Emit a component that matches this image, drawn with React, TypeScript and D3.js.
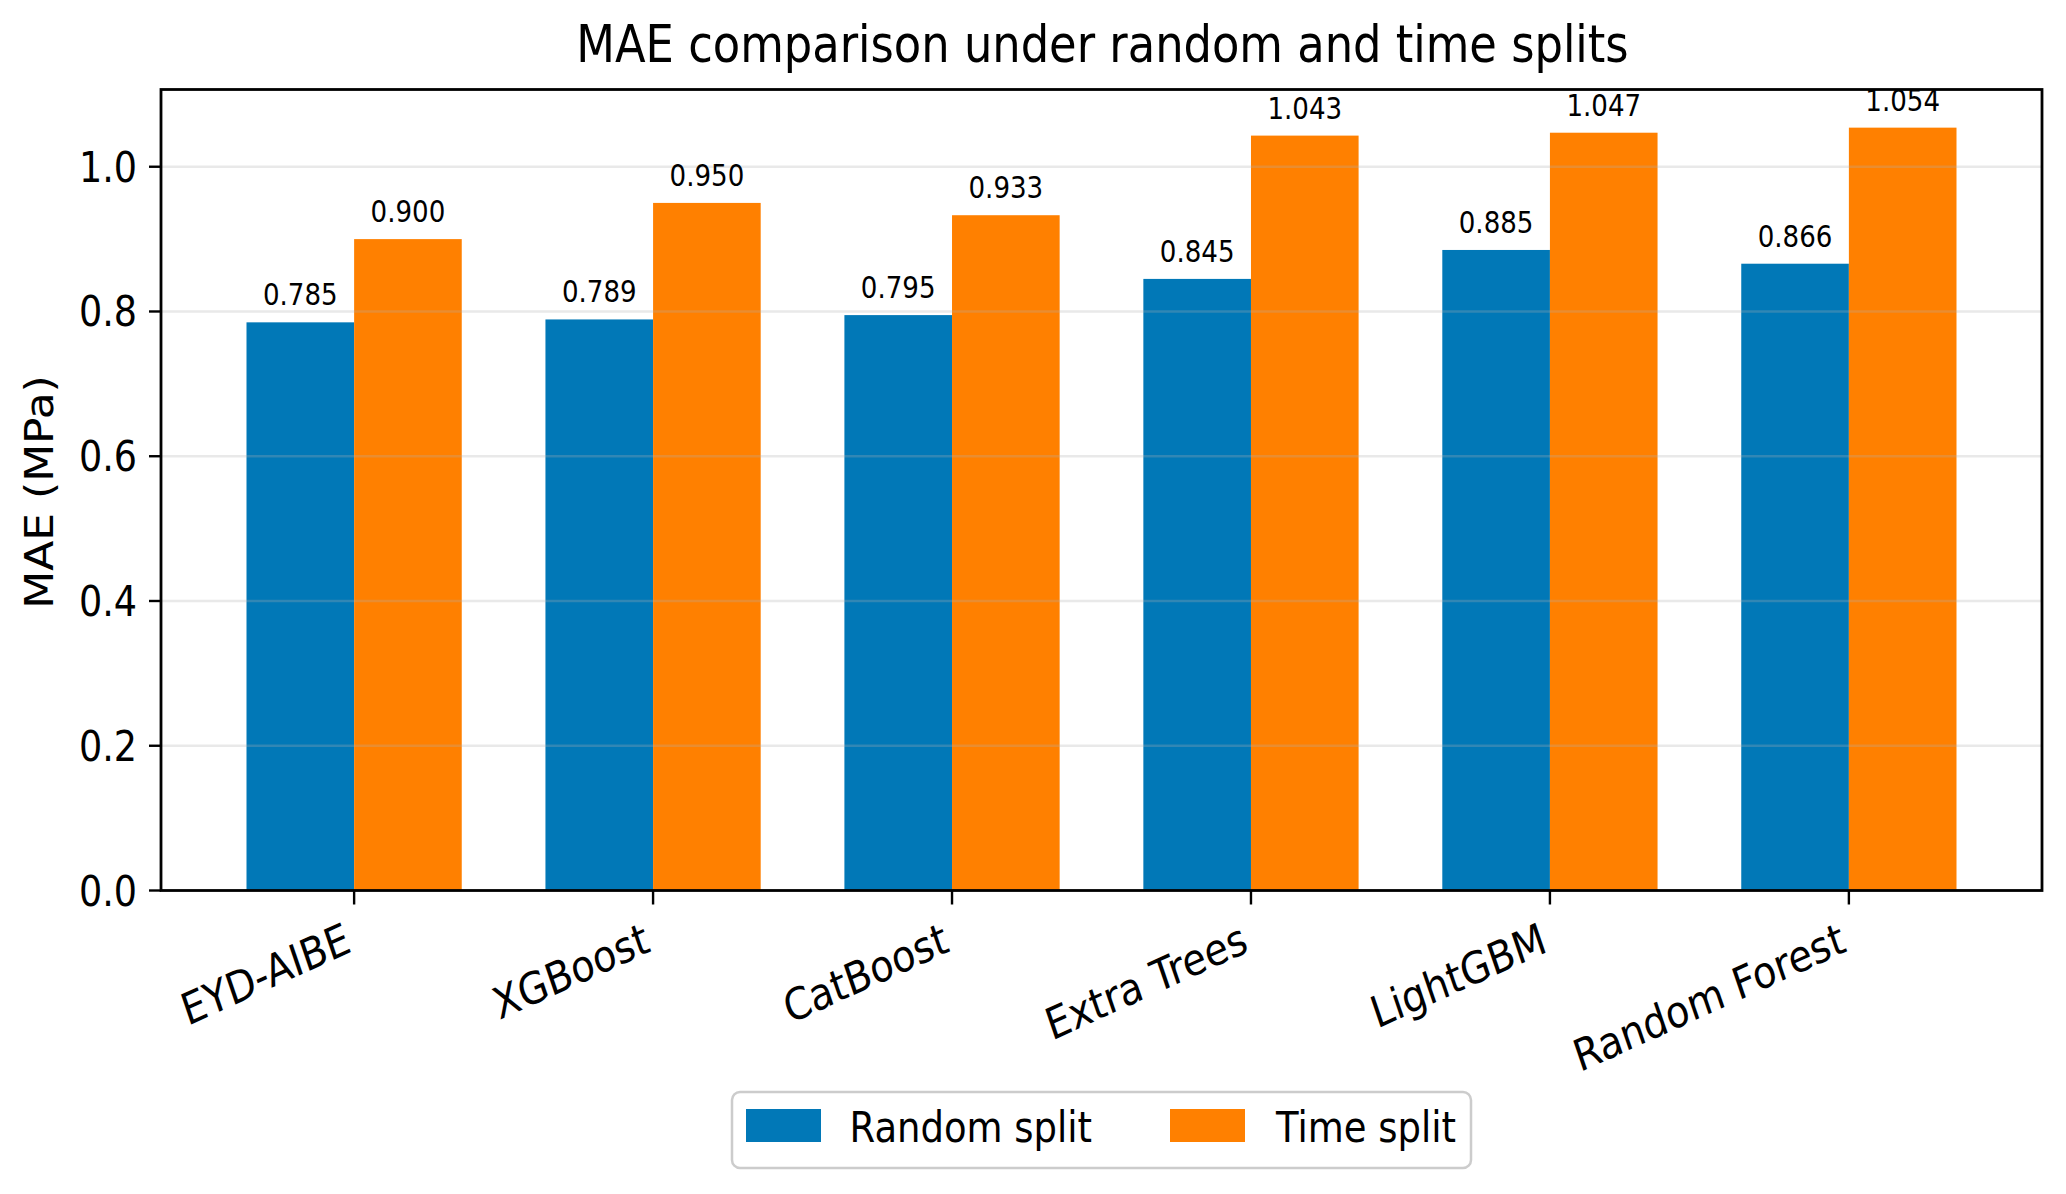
import React from "react";
import * as d3 from "d3";

const categories = ["EYD-AIBE", "XGBoost", "CatBoost", "Extra Trees", "LightGBM", "Random Forest"];
const randomSplit = [0.785, 0.789, 0.795, 0.845, 0.885, 0.866];
const timeSplit = [0.900, 0.950, 0.933, 1.043, 1.047, 1.054];
const yTicks = [0.0, 0.2, 0.4, 0.6, 0.8, 1.0];
const seriesNames = ["Random split", "Time split"];
const seriesColors = ["#0178B7", "#FF8000"];

const W = 2066;
const H = 1194;
const SX = 0.87;
const FONT = "'DejaVu Sans', 'Liberation Sans', sans-serif";
const BAR_W = 0.36;

export default function App() {
  const x = d3.scaleLinear().domain([-0.646, categories.length - 1 + 0.646]).range([161, 2042]);
  const y = d3.scaleLinear().domain([0, 1.1067]).range([890.5, 89.5]);
  const [x0, x1] = x.range();
  const [yb, yt] = y.range();
  const series = [randomSplit, timeSplit];
  const offsets = [-BAR_W / 2, BAR_W / 2];

  const sq = (tx: number, ty: number, extra = "") =>
    `translate(${tx},${ty}) scale(${SX},1)${extra ? " " + extra : ""}`;

  return (
    <svg width={W} height={H} style={{ position: "absolute", left: 0, top: 0, background: "#fff" }} fontFamily={FONT}>
      <rect x={0} y={0} width={W} height={H} fill="#fff" />
      {/* title */}
      <text transform={sq((x0 + x1) / 2 + 1, 62)} textAnchor="middle" fontSize={51.5} fill="#000">
        MAE comparison under random and time splits
      </text>

      {/* bars */}
      {series.map((vals, s) =>
        vals.map((v, i) => {
          const left = x(i + offsets[s] - BAR_W / 2);
          const right = x(i + offsets[s] + BAR_W / 2);
          return (
            <rect key={`b${s}-${i}`} x={left} y={y(v)} width={right - left} height={y(0) - y(v)} fill={seriesColors[s]} />
          );
        })
      )}

      {/* grid (drawn on top, translucent) */}
      {yTicks.map((t) => (
        <line key={`g${t}`} x1={x0} x2={x1} y1={y(t)} y2={y(t)} stroke="#b0b0b0" strokeOpacity={0.28} strokeWidth={2.5} />
      ))}

      {/* bar labels */}
      {series.map((vals, s) =>
        vals.map((v, i) => (
          <text key={`l${s}-${i}`} transform={sq(x(i + offsets[s]), y(v) - 17)} textAnchor="middle" fontSize={30} fill="#000">
            {v.toFixed(3)}
          </text>
        ))
      )}

      {/* spines */}
      <rect x={x0} y={yt} width={x1 - x0} height={yb - yt} fill="none" stroke="#000" strokeWidth={2.8} />

      {/* y ticks */}
      {yTicks.map((t) => (
        <g key={`yt${t}`}>
          <line x1={x0 - 12} x2={x0} y1={y(t)} y2={y(t)} stroke="#000" strokeWidth={2.4} />
          <text transform={sq(x0 - 24, y(t) + 15)} textAnchor="end" fontSize={42} fill="#000">
            {t.toFixed(1)}
          </text>
        </g>
      ))}

      {/* x ticks */}
      {categories.map((c, i) => (
        <g key={`xt${c}`}>
          <line x1={x(i)} x2={x(i)} y1={yb} y2={yb + 14} stroke="#000" strokeWidth={2.4} />
          <text transform={sq(x(i) - 1, 951, "rotate(-21.5)")} textAnchor="end" fontSize={44} fill="#000">
            {c}
          </text>
        </g>
      ))}

      {/* y label */}
      <text transform={`translate(53,492) scale(${SX},1) rotate(-90)`} textAnchor="middle" fontSize={44} fill="#000">
        MAE (MPa)
      </text>

      {/* legend */}
      <rect x={732} y={1092} width={739} height={76} rx={8} ry={8} fill="#fff" stroke="#cccccc" strokeWidth={2.5} />
      <rect x={746} y={1109} width={75} height={33} fill={seriesColors[0]} />
      <text transform={sq(849.5, 1141.5)} fontSize={42.5} fill="#000">{seriesNames[0]}</text>
      <rect x={1170} y={1109} width={75} height={33} fill={seriesColors[1]} />
      <text transform={sq(1276, 1141.5)} fontSize={42.5} fill="#000">{seriesNames[1]}</text>
    </svg>
  );
}
